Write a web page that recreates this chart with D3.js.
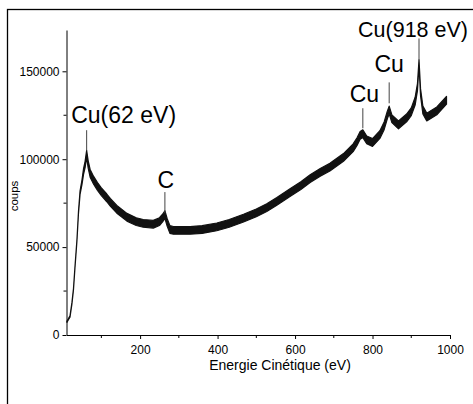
<!DOCTYPE html>
<html>
<head>
<meta charset="utf-8">
<script src="https://d3js.org/d3.v7.min.js"></script>
<style>
  body { margin: 0; background: #fff; }
  svg { display: block; font-family: 'Liberation Sans', Arial, sans-serif; }
</style>
</head>
<body>
<div id="chart"></div>
<script>
// spectrum: kinetic energy (eV), counts, noise half-width
var energy = [11, 15, 19, 24, 28, 32, 37, 41, 45, 50, 54, 58, 62, 66, 71, 80, 90, 100,
  114, 123, 140, 166, 190, 208, 234, 250, 258, 264, 270, 277, 286, 300, 329, 360, 398,
  430, 467, 500, 527, 553, 587, 615, 639, 665, 690, 725, 750, 760, 768, 775, 785, 800,
  819, 830, 838, 843, 850, 867, 888, 900, 910, 916, 920, 924, 930, 940, 966, 991];
var counts = [7500, 9000, 10500, 18000, 26000, 39000, 54000, 70000, 81000, 87000, 93000,
  97000, 103000, 97000, 92000, 88000, 84500, 81500, 78000, 75500, 71500, 67000, 64500,
  63500, 63000, 64500, 66500, 68500, 64000, 60000, 59500, 59500, 59500, 60000, 61500,
  63500, 66500, 69500, 72500, 76000, 81000, 85000, 89000, 92500, 95500, 101000, 106500,
  110000, 113500, 114500, 111000, 109500, 114000, 119000, 125000, 128000, 123000, 119500,
  123500, 127000, 133000, 141000, 155000, 138000, 128000, 124000, 127500, 133500];
var noise = [300, 300, 400, 400, 400, 400, 500, 700, 1000, 1300, 1600, 1800, 2000, 2100,
  2200, 2200, 2200, 2200, 2200, 2200, 2200, 2200, 2200, 2200, 2200, 2200, 2200, 2200,
  2200, 2200, 2200, 2200, 2200, 2200, 2200, 2200, 2200, 2200, 2200, 2200, 2200, 2200,
  2200, 2200, 2200, 2200, 2200, 2200, 2200, 2200, 2200, 2200, 2200, 2200, 2200, 2200,
  2200, 2200, 2200, 2200, 2200, 2000, 1500, 2000, 2200, 2200, 2200, 2200];

// peak annotations: label, energy of the marker line, line top / bottom in counts
var peakLabels = ["Cu(62 eV)", "C", "Cu", "Cu", "Cu(918 eV)"];
var peakEnergy = [62, 264, 775, 843, 920];
var peakTop = [116500, 81300, 129000, 143700, 168700];
var peakBottom = [105000, 69300, 117600, 131800, 156200];

var xMajor = [200, 400, 600, 800, 1000];
var xMinor = [100, 300, 500, 700, 900];
var yMajor = [0, 50000, 100000, 150000];
var yMinor = [25000, 75000, 125000];

var W = 473, H = 404;
var svg = d3.select("#chart").append("svg")
    .attr("width", W).attr("height", H);

// outer frame (only left and top are inside the picture)
svg.append("rect")
    .attr("x", 7.5).attr("y", 9.5)
    .attr("width", 600).attr("height", 600)
    .attr("fill", "none").attr("stroke", "#000").attr("stroke-width", 1.3);

var x = d3.scaleLinear().domain([10, 1000]).range([66.5, 450]);
var y = d3.scaleLinear().domain([0, 173500]).range([335, 30]);

// axes
var xAxis = svg.append("g").attr("transform", "translate(0,335)");
xAxis.call(d3.axisBottom(x).tickValues(xMajor).tickSize(4).tickSizeOuter(0).tickPadding(6)
    .tickFormat(d3.format("d")));
xAxis.selectAll(".minor").data(xMinor).enter().append("line")
    .attr("class", "minor")
    .attr("x1", function (d) { return x(d); }).attr("x2", function (d) { return x(d); })
    .attr("y1", 0).attr("y2", 3).attr("stroke", "#000");

var yAxis = svg.append("g").attr("transform", "translate(66.5,0)");
yAxis.call(d3.axisLeft(y).tickValues(yMajor).tickSize(4).tickSizeOuter(0).tickPadding(3)
    .tickFormat(d3.format("d")));
yAxis.selectAll(".minor").data(yMinor).enter().append("line")
    .attr("class", "minor")
    .attr("y1", function (d) { return y(d); }).attr("y2", function (d) { return y(d); })
    .attr("x1", 0).attr("x2", -3).attr("stroke", "#000");

svg.selectAll(".tick text")
    .style("font-family", "'Liberation Sans', Arial, sans-serif")
    .style("font-size", "12px").attr("fill", "#000");
svg.selectAll(".domain, .tick line").attr("stroke", "#000");

svg.append("text")
    .attr("x", 280).attr("y", 370)
    .attr("text-anchor", "middle")
    .style("font-size", "14px")
    .text("Energie Cinétique (eV)");

svg.append("text")
    .attr("transform", "translate(18,196) rotate(-90)")
    .attr("text-anchor", "middle")
    .style("font-size", "11.5px")
    .text("coups");

// spectrum band
var pts = energy.map(function (e, i) { return { e: e, c: counts[i], n: noise[i] }; });
var band = d3.area()
    .x(function (d) { return x(d.e); })
    .y0(function (d) { return y(d.c - d.n); })
    .y1(function (d) { return y(d.c + d.n); });
svg.append("path")
    .datum(pts)
    .attr("d", band)
    .attr("fill", "#111")
    .attr("stroke", "#111")
    .attr("stroke-width", 1.2)
    .attr("stroke-linejoin", "round");

// peak markers and labels
var labelDx = [37, 1, 1.5, 0, -6];
var labelDy = [7, 4, 6, 10, 1];
var labelSize = [23, 23, 23, 23, 21.5];
peakLabels.forEach(function (lab, i) {
    var px = x(peakEnergy[i]);
    svg.append("line")
        .attr("x1", px).attr("x2", px)
        .attr("y1", y(peakTop[i])).attr("y2", y(peakBottom[i]))
        .attr("stroke", "#444").attr("stroke-width", 1);
    svg.append("text")
        .attr("x", px + labelDx[i])
        .attr("y", y(peakTop[i]) - labelDy[i])
        .attr("text-anchor", "middle")
        .style("font-size", labelSize[i] + "px")
        .text(lab);
});
</script>
</body>
</html>
